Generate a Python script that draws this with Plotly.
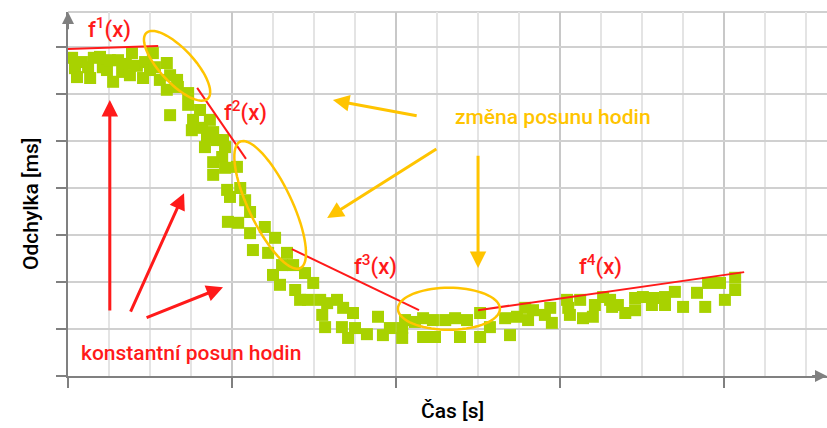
import math
import plotly.graph_objects as go

# measured clock offset samples: time [s] and deviation [ms]
cas = [
    0.10, 0.17, 0.22, 0.34, 0.49, 0.54, 0.63, 0.78, 0.85, 0.95, 1.02, 1.10,
    1.22, 1.32, 1.41, 1.51, 1.56, 1.68, 1.83, 1.88, 2.00, 2.07, 2.12, 2.24,
    2.41, 2.49, 2.66, 2.41, 2.68, 2.93, 2.49, 2.93, 3.05, 3.02, 3.22, 3.27,
    3.46, 3.39, 3.54, 3.63, 3.78, 3.34, 3.83, 3.54, 3.76, 3.54, 3.83, 4.12,
    3.88, 3.95, 4.20, 4.32, 4.44, 3.90, 4.15, 4.44, 4.80, 5.05, 4.51, 4.88,
    5.34, 5.22, 5.00, 5.17, 5.49, 5.78, 5.54, 5.66, 5.98, 5.85, 6.15, 6.32,
    6.20, 6.27, 6.56, 6.71, 6.95, 6.68, 6.83, 7.00, 7.29,
    7.56, 7.68, 7.85, 8.15, 8.15, 8.22, 8.46, 8.66, 8.66, 8.90, 8.95, 9.20,
    9.44, 9.56, 9.73, 10.05, 10.05, 10.29, 10.66, 10.78, 10.95, 11.22, 11.15,
    11.34, 11.63, 11.76, 11.80, 12.17, 12.20, 12.24, 12.49, 12.56, 12.80,
    12.85, 13.05, 13.22, 13.27, 13.41, 13.59, 13.83, 13.83, 14.02, 14.24,
    14.27, 14.56, 14.56, 14.80, 15.00, 15.34, 15.54, 15.61, 15.90, 16.02,
    16.27, 16.27,
]
odchylka = [
    6.77, 6.55, 6.36, 6.68, 6.57, 6.34, 6.77, 6.79, 6.57, 6.51, 6.72, 6.26,
    6.72, 6.47, 6.64, 6.40, 6.87, 6.60, 6.34, 6.68, 6.51, 6.87, 6.57, 6.30,
    6.66, 6.40, 6.30, 6.09, 6.15, 6.02, 5.55, 5.77, 5.45, 5.23, 5.66, 5.28,
    5.45, 5.09, 5.19, 5.02, 5.02, 4.87, 4.87, 4.55, 4.66, 4.28, 4.43, 4.45,
    3.96, 3.81, 4.00, 3.74, 3.49, 3.28, 3.26, 3.04, 3.17, 2.94, 2.68, 2.62,
    2.62, 2.36, 2.15, 1.94, 2.36, 2.19, 1.83, 1.62, 1.98, 1.62, 1.62, 1.55,
    1.30, 1.04, 1.62, 1.45, 1.34, 1.04, 0.81, 1.02, 0.89,
    1.26, 0.87, 1.02, 1.02, 0.81, 1.19, 1.15, 1.23, 0.83, 1.19, 0.83, 1.19,
    1.23, 0.83, 1.19, 1.34, 0.83, 1.04, 1.23, 0.87, 1.26, 1.19, 1.45,
    1.40, 1.30, 1.45, 1.13, 1.62, 1.45, 1.30, 1.62, 1.23, 1.26,
    1.51, 1.68, 1.62, 1.47, 1.51, 1.34, 1.40, 1.66, 1.68, 1.51,
    1.66, 1.68, 1.51, 1.79, 1.47, 1.77, 1.47, 1.98, 1.98, 1.62,
    1.83, 2.09,
]

# piecewise linear fits f1..f4: (x0, y0, x1, y1)
fits = [
    (0.00, 6.96, 2.20, 7.02),
    (3.15, 6.13, 4.34, 4.62),
    (5.46, 2.70, 8.56, 1.40),
    (10.00, 1.40, 16.49, 2.21),
]
fit_labels = ["f<sup>1</sup>(x)", "f<sup>2</sup>(x)", "f<sup>3</sup>(x)", "f<sup>4</sup>(x)"]
fit_label_pos = [(1.02, 7.40), (4.32, 5.62), (7.51, 2.36), (12.98, 2.36)]

# highlighted regions where the clock offset changes: centre (data), semi-axes (px), angle (deg)
regions = [
    ((2.66, 6.60), 45, 17, 47),
    ((4.93, 3.64), 70, 21.5, 64.5),
    ((9.29, 1.43), 51, 21, 0),
]

# arrows: (tail x, tail y, head x, head y)
red_arrows = [
    (1.02, 1.36, 1.02, 5.87),
    (1.51, 1.34, 2.83, 3.89),
    (1.88, 1.23, 3.78, 1.89),
]
orange_arrows = [
    (8.54, 5.53, 6.46, 5.87),
    (9.02, 4.85, 6.32, 3.36),
    (10.00, 4.72, 10.00, 2.30),
]

X_MAX = 18.51
Y_MAX = 7.745
W, H = 827, 428
M_L, M_R, M_T, M_B = 68, 0, 12, 52
KX = (W - M_L - M_R) / X_MAX
KY = (H - M_T - M_B) / Y_MAX

RED = "#ff1a1a"
ORANGE = "#ffc400"
GREEN = "#a8d200"
AXIS = "#808080"
FONT = "Roboto, sans-serif"

fig = go.Figure()
fig.add_trace(go.Scatter(
    x=cas, y=odchylka, mode="markers",
    marker=dict(symbol="square", size=12, color=GREEN, line=dict(width=0)),
    hoverinfo="skip", showlegend=False,
))

shapes = []
for x0, y0, x1, y1 in fits:
    shapes.append(dict(type="line", x0=x0, y0=y0, x1=x1, y1=y1, xref="x", yref="y",
                       line=dict(color=RED, width=2)))


def ellipse_path(cx, cy, a, b, ang):
    th = math.radians(ang)
    pts = []
    for i in range(73):
        t = 2 * math.pi * i / 72
        dx = a * math.cos(t) * math.cos(th) - b * math.sin(t) * math.sin(th)
        dy = a * math.cos(t) * math.sin(th) + b * math.sin(t) * math.cos(th)
        pts.append((cx + dx / KX, cy - dy / KY))
    return "M " + " L ".join(f"{px:.4f},{py:.4f}" for px, py in pts) + " Z"


for (cx, cy), a, b, ang in regions:
    shapes.append(dict(type="path", path=ellipse_path(cx, cy, a, b, ang), xref="x", yref="y",
                       line=dict(color=ORANGE, width=2.5)))

# top border of the plotting area
shapes.append(dict(type="line", x0=0, x1=1, y0=1, y1=1, xref="paper", yref="paper",
                   line=dict(color="#d0d0d0", width=2), layer="below"))

annotations = []
for tx, ty, hx, hy in red_arrows:
    annotations.append(dict(x=hx, y=hy, ax=tx, ay=ty, xref="x", yref="y", axref="x", ayref="y",
                            text="", showarrow=True, arrowhead=2, arrowsize=1.1,
                            arrowwidth=3, arrowcolor=RED, standoff=0))
for tx, ty, hx, hy in orange_arrows:
    annotations.append(dict(x=hx, y=hy, ax=tx, ay=ty, xref="x", yref="y", axref="x", ayref="y",
                            text="", showarrow=True, arrowhead=2, arrowsize=1.1,
                            arrowwidth=3, arrowcolor=ORANGE, standoff=0))

# axis arrows
annotations.append(dict(x=0, y=Y_MAX, ax=0, ay=Y_MAX - 0.4, xref="x", yref="y", axref="x", ayref="y",
                        text="", showarrow=True, arrowhead=2, arrowsize=1.2, arrowwidth=2,
                        arrowcolor=AXIS, standoff=0))
annotations.append(dict(x=X_MAX, y=0, ax=X_MAX - 0.4, ay=0, xref="x", yref="y", axref="x", ayref="y",
                        text="", showarrow=True, arrowhead=2, arrowsize=1.2, arrowwidth=2,
                        arrowcolor=AXIS, standoff=0))

for lbl, (lx, ly) in zip(fit_labels, fit_label_pos):
    annotations.append(dict(x=lx, y=ly, xref="x", yref="y", text=lbl, showarrow=False,
                            font=dict(family=FONT, size=22, color=RED, weight=500)))

annotations.append(dict(x=11.83, y=5.51, xref="x", yref="y", text="změna posunu hodin",
                        showarrow=False, font=dict(family=FONT, size=21, color=ORANGE, weight=500)))
annotations.append(dict(x=0.27, y=0.49, xref="x", yref="y", text="konstantní posun hodin",
                        xanchor="left", showarrow=False,
                        font=dict(family=FONT, size=21, color=RED, weight=500)))

# axis titles, placed in pixels and converted to paper fractions
titles = [
    ("Odchylka [ms]", 31, 204, -90),
    ("Čas [s]", 452, 411, 0),
]
for txt, px, py, ang in titles:
    annotations.append(dict(
        x=(px - M_L) / (W - M_L - M_R), y=((H - py) - M_B) / (H - M_T - M_B),
        xref="paper", yref="paper", xanchor="center", yanchor="middle",
        text=txt, showarrow=False, textangle=ang,
        font=dict(family=FONT, size=21, color="#000000", weight=500)))

fig.update_layout(
    width=W, height=H,
    margin=dict(l=M_L, r=M_R, t=M_T, b=M_B),
    paper_bgcolor="white", plot_bgcolor="white",
    shapes=shapes, annotations=annotations,
    xaxis=dict(range=[0, X_MAX], dtick=4, tick0=0, showticklabels=False,
               ticks="outside", ticklen=10, tickwidth=2, tickcolor=AXIS,
               showline=True, linecolor=AXIS, linewidth=2,
               showgrid=True, gridcolor="#c8c8c8", gridwidth=2, zeroline=False,
               minor=dict(dtick=1, tick0=0, showgrid=True, gridcolor="#e4e4e4", gridwidth=2, ticks=""),
               fixedrange=True),
    yaxis=dict(range=[0, Y_MAX], dtick=1, tick0=0, showticklabels=False,
               ticks="outside", ticklen=10, tickwidth=2, tickcolor=AXIS,
               showline=True, linecolor=AXIS, linewidth=2,
               showgrid=True, gridcolor="#d0d0d0", gridwidth=2, zeroline=False,
               fixedrange=True),
)

fig.write_html("out.html")
